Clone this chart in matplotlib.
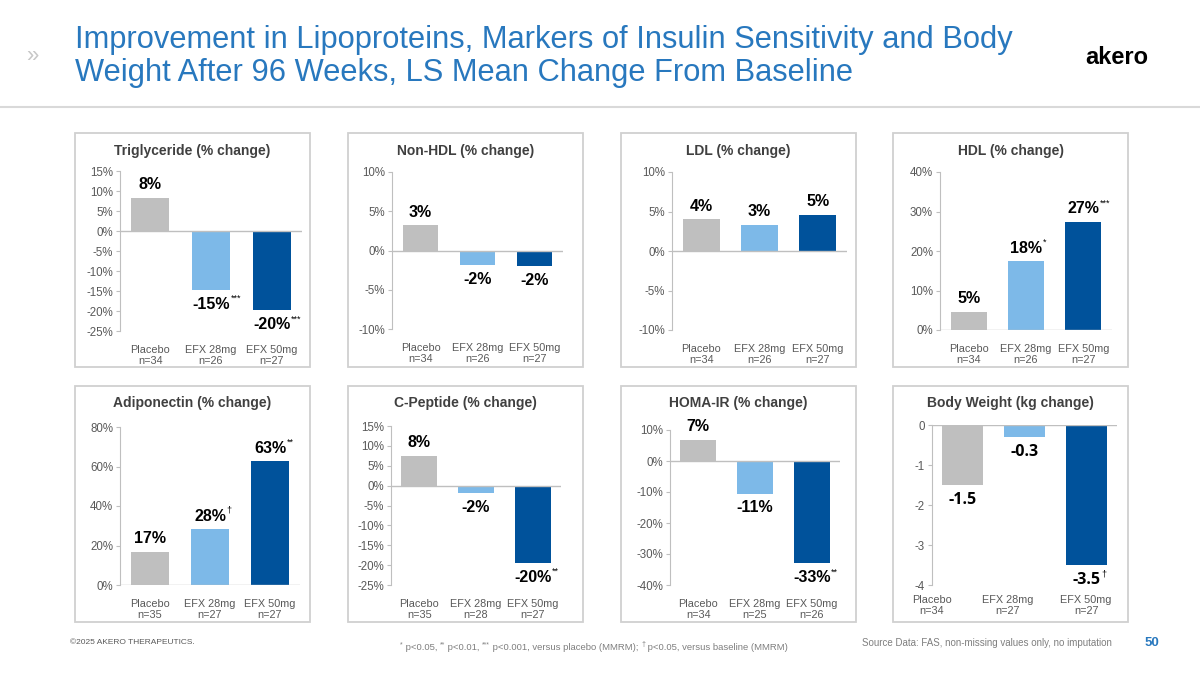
import matplotlib.pyplot as plt
from matplotlib.patches import Rectangle
from matplotlib.text import Annotation
from matplotlib.ticker import FuncFormatter, FixedLocator

plt.rcParams["font.family"] = ["Liberation Sans", "DejaVu Sans"]

W, H = 1200, 675

groups = ["Placebo", "EFX 28mg", "EFX 50mg"]
colors = ["#BFBFBF", "#7DB9E8", "#00529B"]

titles = ["Triglyceride (% change)", "Non-HDL (% change)", "LDL (% change)", "HDL (% change)",
          "Adiponectin (% change)", "C-Peptide (% change)", "HOMA-IR (% change)",
          "Body Weight (kg change)"]

tg = [8.3, -14.7, -19.8]
nonhdl = [3.2, -1.8, -2.0]
ldl = [4.0, 3.3, 4.6]
hdl = [4.6, 17.4, 27.4]
adipo = [16.8, 28.3, 62.6]
cpep = [7.5, -1.8, -19.4]
homa = [6.9, -10.5, -33.0]
bw = [-1.5, -0.3, -3.5]
values = [tg, nonhdl, ldl, hdl, adipo, cpep, homa, bw]

labels = [["8%", "-15%", "-20%"], ["3%", "-2%", "-2%"], ["4%", "3%", "5%"],
          ["5%", "18%", "27%"], ["17%", "28%", "63%"], ["8%", "-2%", "-20%"],
          ["7%", "-11%", "-33%"], ["-1.5", "-0.3", "-3.5"]]
sigs = [["", "***", "***"], ["", "", ""], ["", "", ""], ["", "*", "***"],
        ["", "†", "**"], ["", "", "**"], ["", "", "**"], ["", "", "†"]]
ns = [[34, 26, 27], [34, 26, 27], [34, 26, 27], [34, 26, 27],
      [35, 27, 27], [35, 28, 27], [34, 25, 26], [34, 27, 27]]

ylims = [(-25, 15), (-10, 10), (-10, 10), (0, 40), (0, 80), (-25, 15), (-40, 10), (-4, 0)]
ysteps = [5, 5, 5, 10, 20, 5, 10, 1]

# axes placement in pixels: left, right, top, bottom
axpix = [(120, 302, 171, 331), (392, 563, 172, 329), (672, 847, 172, 330), (940, 1112, 172, 330),
         (120, 300, 427, 585), (391, 561, 426, 585), (670, 840, 430, 585), (932, 1117, 425, 585)]
box_x = [75, 348, 621, 893]
box_w = 235
box_rows = [(133, 367), (386, 622)]

footnote = [("*", True), (" p<0.05, ", False), ("**", True), (" p<0.01, ", False),
            ("***", True), (" p<0.001, versus placebo (MMRM); ", False), ("†", True),
            (" p<0.05, versus baseline (MMRM)", False)]

fig = plt.figure(figsize=(12, 6.75), dpi=100)
fig.patch.set_facecolor("white")


def fx(x):
    return x / W


def fy(y):
    return 1 - y / H


# header
fig.text(fx(26), fy(57), "»", fontsize=16, color="#C8C8C8", va="center")
fig.text(fx(75), fy(40), "Improvement in Lipoproteins, Markers of Insulin Sensitivity and Body",
         fontsize=22.2, color="#2878BE", va="center")
fig.text(fx(75), fy(73), "Weight After 96 Weeks, LS Mean Change From Baseline",
         fontsize=22.2, color="#2878BE", va="center")
fig.text(fx(1117), fy(57), "akero", fontsize=17, fontweight="bold", color="black",
         ha="center", va="center")
fig.add_artist(plt.Line2D([0, 1], [fy(107), fy(107)], color="#D9D9D9", lw=1.5))

# panel boxes
for (top, bot) in box_rows:
    for x0 in box_x:
        fig.add_artist(Rectangle((fx(x0), fy(bot)), fx(box_w), (bot - top) / H,
                                 fill=False, edgecolor="#D0D0D0", lw=1.3))

for i in range(8):
    L, R, T, B = axpix[i]
    ax = fig.add_axes([fx(L), fy(B), (R - L) / W, (B - T) / H])
    vals = values[i]
    wbar = 0.67 if i == 7 else 0.63
    ax.bar(range(3), vals, width=wbar, color=colors, zorder=2)
    ax.set_xlim(-0.5, 2.5)
    lo, hi = ylims[i]
    ax.set_ylim(lo, hi)
    step = ysteps[i]
    ticks = [lo + k * step for k in range(int(round((hi - lo) / step)) + 1)]
    ax.yaxis.set_major_locator(FixedLocator(ticks))
    if i == 7:
        ax.yaxis.set_major_formatter(FuncFormatter(lambda v, p: f"{v:.0f}"))
    else:
        ax.yaxis.set_major_formatter(FuncFormatter(lambda v, p: f"{v:.0f}%"))
    for s in ["top", "right", "bottom"]:
        ax.spines[s].set_visible(False)
    ax.spines["left"].set_color("#BFBFBF")
    ax.axhline(0, color="#BFBFBF", lw=1.0, zorder=3)
    ax.tick_params(axis="y", colors="#BFBFBF", labelcolor="#595959", labelsize=8.3,
                   length=3, pad=2)
    if i == 7:
        xt = [-0.5, 0.72, 2.0]
    else:
        xt = [0, 1, 2]
    ax.set_xticks(xt)
    ax.set_xticklabels([f"{g}\nn={n}" for g, n in zip(groups, ns[i])],
                       fontsize=7.8, color="#595959", linespacing=1.2)
    ax.tick_params(axis="x", length=0, pad=10 if i < 7 else 7)
    ax.set_facecolor("none")

    fsz = 11.5
    fam = ["Open Sans", "DejaVu Sans"] if i == 7 else None
    for j, v in enumerate(vals):
        if v >= 0:
            t = ax.annotate(labels[i][j], (j, v), xytext=(0, 4), textcoords="offset points",
                            ha="center", va="bottom", fontsize=fsz, fontweight="bold",
                            family=fam, color="black")
        else:
            t = ax.annotate(labels[i][j], (j, v), xytext=(0, -5), textcoords="offset points",
                            ha="center", va="top", fontsize=fsz, fontweight="bold",
                            family=fam, color="black")
        if sigs[i][j]:
            ax.annotate(sigs[i][j], xy=(1, 1), xycoords=t, xytext=(0.5, 2),
                        textcoords="offset points", ha="left", va="top", fontsize=6.5,
                        color="black")

    # panel title
    row = 0 if i < 4 else 1
    bx = box_x[i % 4] + box_w / 2
    ty = 151 if row == 0 else 403
    fig.text(fx(bx), fy(ty), titles[i], fontsize=10, fontweight="bold", color="#404040",
             ha="center", va="center")

# footer
fig.text(fx(70), fy(643), "©2025 AKERO THERAPEUTICS.", fontsize=6, color="#595959", va="center")

# footnote: chain pieces, superscripts raised
last = None
for txt, sup in footnote:
    size = 5 if sup else 6.8
    if last is None:
        last = fig.text(fx(400), fy(649) + (3 / H if sup else 0), txt, fontsize=size,
                        color="#7F7F7F", va="baseline")
        last_sup = sup
        continue
    dy = 0
    if sup and not last_sup:
        dy = 3
    elif last_sup and not sup:
        dy = -3
    last = fig.add_artist(Annotation(txt, xy=(1, 0), xycoords=last, xytext=(0, dy),
                                     textcoords="offset points", ha="left", va="bottom",
                                     fontsize=size, color="#7F7F7F"))
    last_sup = sup

fig.text(fx(862), fy(643), "Source Data: FAS, non-missing values only, no imputation",
         fontsize=7, color="#7F7F7F", va="center")
fig.text(fx(1152), fy(643), "50", fontsize=9.5, fontweight="bold", color="#2878BE",
         ha="center", va="center")

fig.savefig("out.png", dpi=100)
